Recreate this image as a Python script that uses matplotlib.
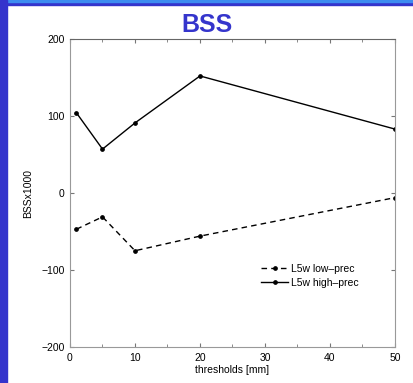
import matplotlib
matplotlib.use("Agg")
import matplotlib.pyplot as plt
from matplotlib.patches import Rectangle

plt.rcParams["font.family"] = ["Liberation Sans", "DejaVu Sans"]

# thresholds and BSS x1000 values
thresholds = [1, 5, 10, 20, 50]
low_prec = [-47, -31, -75, -56, -6]
high_prec = [104, 57, 91, 152, 83]

W, H = 414, 383
fig = plt.figure(figsize=(W / 100, H / 100), dpi=100)
fig.patch.set_facecolor("white")

# blue frame of the slide
fig.patches.append(Rectangle((0, 1 - 5 / H), 1, 5 / H, transform=fig.transFigure,
                             color="#3434cc", zorder=0))
fig.patches.append(Rectangle((0, 1 - 2 / H), 1, 2 / H, transform=fig.transFigure,
                             color="#3c8cf0", zorder=0))
fig.patches.append(Rectangle((0, 0), 7 / W, 1, transform=fig.transFigure,
                             color="#3434cc", zorder=0))

ax = fig.add_axes([70 / W, 1 - 347 / H, 325 / W, 308 / H])

ax.plot(thresholds, low_prec, "k--", marker="o", markersize=2.4, lw=1,
        dashes=(4, 3), label="L5w low\u2013prec")
ax.plot(thresholds, high_prec, "k-", marker="o", markersize=2.4, lw=1,
        label="L5w high\u2013prec")

ax.set_xlim(0, 50)
ax.set_ylim(-200, 200)
ax.set_xticks(range(0, 51, 10))
ax.set_xticks(range(5, 50, 10), minor=True)
ax.set_yticks([-200, -100, 0, 100, 200])
ax.set_yticklabels(["\u2212200", "\u2212100", "0", "100", "200"])
ax.tick_params(direction="in", which="both", top=True, right=True,
               labelsize=7.5, length=3, color="#777777", pad=4)
ax.tick_params(which="minor", length=2)
for s in ax.spines.values():
    s.set_color("#999999")
    s.set_linewidth(0.8)
ax.spines["top"].set_color("#666666")

ax.set_xlabel("thresholds [mm]", fontsize=7.5, labelpad=2)
ax.set_ylabel("BSSx1000", fontsize=7.5, labelpad=6)

fig.text(0.5, 1 - 32 / H, "BSS", ha="center", va="baseline", fontsize=18,
         fontweight="bold", color="#3535cc")

ax.legend(loc="upper left", bbox_to_anchor=(0.56, 0.3), frameon=False,
          fontsize=7.5, handlelength=2.6, handletextpad=0.2, labelspacing=0.4)

fig.savefig("out.png", dpi=100)
